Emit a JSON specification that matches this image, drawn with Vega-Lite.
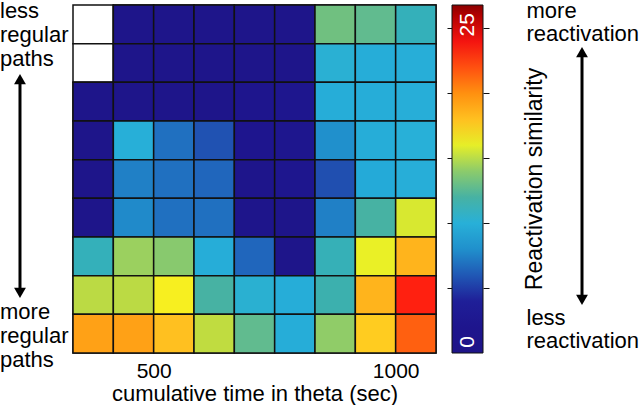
{
  "$schema": "https://vega.github.io/schema/vega-lite/v6.json",
  "width": 363,
  "height": 348,
  "autosize": "none",
  "padding": {"left": 73, "top": 5, "right": 204, "bottom": 52},
  "background": "white",
  "config": {"view": {"stroke": null}, "font": "Liberation Sans"},
  "resolve": {"scale": {"y": "independent"}},
  "layer": [
    {
      "layer": [
        {
          "data": {"name": "cells", "values": [
            {"t":333.33,"t2":416.67,"y":8,"y2":9,"v":null},{"t":416.67,"t2":500,"y":8,"y2":9,"v":1},{"t":500,"t2":583.33,"y":8,"y2":9,"v":1},{"t":583.33,"t2":666.67,"y":8,"y2":9,"v":1},{"t":666.67,"t2":750,"y":8,"y2":9,"v":1},{"t":750,"t2":833.33,"y":8,"y2":9,"v":1},{"t":833.33,"t2":916.67,"y":8,"y2":9,"v":13.3},{"t":916.67,"t2":1000,"y":8,"y2":9,"v":12.8},{"t":1000,"t2":1083.33,"y":8,"y2":9,"v":11.2},
            {"t":333.33,"t2":416.67,"y":7,"y2":8,"v":null},{"t":416.67,"t2":500,"y":7,"y2":8,"v":1},{"t":500,"t2":583.33,"y":7,"y2":8,"v":1},{"t":583.33,"t2":666.67,"y":7,"y2":8,"v":1},{"t":666.67,"t2":750,"y":7,"y2":8,"v":1},{"t":750,"t2":833.33,"y":7,"y2":8,"v":1},{"t":833.33,"t2":916.67,"y":7,"y2":8,"v":10.2},{"t":916.67,"t2":1000,"y":7,"y2":8,"v":9.6},{"t":1000,"t2":1083.33,"y":7,"y2":8,"v":9.8},
            {"t":333.33,"t2":416.67,"y":6,"y2":7,"v":1},{"t":416.67,"t2":500,"y":6,"y2":7,"v":1},{"t":500,"t2":583.33,"y":6,"y2":7,"v":1},{"t":583.33,"t2":666.67,"y":6,"y2":7,"v":1},{"t":666.67,"t2":750,"y":6,"y2":7,"v":2},{"t":750,"t2":833.33,"y":6,"y2":7,"v":2.8},{"t":833.33,"t2":916.67,"y":6,"y2":7,"v":9.6},{"t":916.67,"t2":1000,"y":6,"y2":7,"v":9.6},{"t":1000,"t2":1083.33,"y":6,"y2":7,"v":9.8},
            {"t":333.33,"t2":416.67,"y":5,"y2":6,"v":1},{"t":416.67,"t2":500,"y":5,"y2":6,"v":9.9},{"t":500,"t2":583.33,"y":5,"y2":6,"v":7},{"t":583.33,"t2":666.67,"y":5,"y2":6,"v":5.8},{"t":666.67,"t2":750,"y":5,"y2":6,"v":2.5},{"t":750,"t2":833.33,"y":5,"y2":6,"v":2.8},{"t":833.33,"t2":916.67,"y":5,"y2":6,"v":8},{"t":916.67,"t2":1000,"y":5,"y2":6,"v":9.6},{"t":1000,"t2":1083.33,"y":5,"y2":6,"v":10},
            {"t":333.33,"t2":416.67,"y":4,"y2":5,"v":1},{"t":416.67,"t2":500,"y":4,"y2":5,"v":7.5},{"t":500,"t2":583.33,"y":4,"y2":5,"v":7},{"t":583.33,"t2":666.67,"y":4,"y2":5,"v":6.6},{"t":666.67,"t2":750,"y":4,"y2":5,"v":1.5},{"t":750,"t2":833.33,"y":4,"y2":5,"v":2.8},{"t":833.33,"t2":916.67,"y":4,"y2":5,"v":5.7},{"t":916.67,"t2":1000,"y":4,"y2":5,"v":9.3},{"t":1000,"t2":1083.33,"y":4,"y2":5,"v":9.8},
            {"t":333.33,"t2":416.67,"y":3,"y2":4,"v":1},{"t":416.67,"t2":500,"y":3,"y2":4,"v":7.8},{"t":500,"t2":583.33,"y":3,"y2":4,"v":7},{"t":583.33,"t2":666.67,"y":3,"y2":4,"v":7},{"t":666.67,"t2":750,"y":3,"y2":4,"v":1.5},{"t":750,"t2":833.33,"y":3,"y2":4,"v":1},{"t":833.33,"t2":916.67,"y":3,"y2":4,"v":7.5},{"t":916.67,"t2":1000,"y":3,"y2":4,"v":12},{"t":1000,"t2":1083.33,"y":3,"y2":4,"v":15.6},
            {"t":333.33,"t2":416.67,"y":2,"y2":3,"v":11.2},{"t":416.67,"t2":500,"y":2,"y2":3,"v":14.3},{"t":500,"t2":583.33,"y":2,"y2":3,"v":13.9},{"t":583.33,"t2":666.67,"y":2,"y2":3,"v":9.6},{"t":666.67,"t2":750,"y":2,"y2":3,"v":6.6},{"t":750,"t2":833.33,"y":2,"y2":3,"v":1},{"t":833.33,"t2":916.67,"y":2,"y2":3,"v":11.3},{"t":916.67,"t2":1000,"y":2,"y2":3,"v":16.1},{"t":1000,"t2":1083.33,"y":2,"y2":3,"v":18.5},
            {"t":333.33,"t2":416.67,"y":1,"y2":2,"v":14.9},{"t":416.67,"t2":500,"y":1,"y2":2,"v":14.9},{"t":500,"t2":583.33,"y":1,"y2":2,"v":16.6},{"t":583.33,"t2":666.67,"y":1,"y2":2,"v":12},{"t":666.67,"t2":750,"y":1,"y2":2,"v":10.3},{"t":750,"t2":833.33,"y":1,"y2":2,"v":9.6},{"t":833.33,"t2":916.67,"y":1,"y2":2,"v":11.6},{"t":916.67,"t2":1000,"y":1,"y2":2,"v":18.5},{"t":1000,"t2":1083.33,"y":1,"y2":2,"v":23.4},
            {"t":333.33,"t2":416.67,"y":0,"y2":1,"v":19.3},{"t":416.67,"t2":500,"y":0,"y2":1,"v":19.3},{"t":500,"t2":583.33,"y":0,"y2":1,"v":18},{"t":583.33,"t2":666.67,"y":0,"y2":1,"v":15},{"t":666.67,"t2":750,"y":0,"y2":1,"v":12.8},{"t":750,"t2":833.33,"y":0,"y2":1,"v":9.6},{"t":833.33,"t2":916.67,"y":0,"y2":1,"v":14.1},{"t":916.67,"t2":1000,"y":0,"y2":1,"v":17.7},{"t":1000,"t2":1083.33,"y":0,"y2":1,"v":21.5}
          ]},
          "mark": {"type": "rect", "fill": "white", "stroke": "#111", "strokeWidth": 1.5},
          "encoding": {
            "x": {"field": "t", "type": "quantitative", "scale": {"domain": [333.33, 1083.33], "nice": false, "zero": false},
              "axis": {"values": [500, 1000], "format": "d", "ticks": false, "tickSize": 0, "domain": false, "grid": false, "labelPadding": 7, "labelFontSize": 21, "labelColor": "black", "labelFont": "Liberation Sans",
                "title": "cumulative time in theta (sec)", "titleFontSize": 22, "titleFontWeight": "normal", "titleColor": "black", "titleFont": "Liberation Sans", "titleBaseline": "alphabetic", "titleY": 47}},
            "x2": {"field": "t2"},
            "y": {"field": "y", "type": "quantitative", "scale": {"domain": [0, 9], "nice": false, "zero": false}, "axis": null},
            "y2": {"field": "y2"}
          }
        },
        {
          "data": {"name": "cells"},
          "transform": [{"filter": "isValid(datum.v)"}],
          "mark": {"type": "rect", "stroke": "#111", "strokeWidth": 1.5},
          "encoding": {
            "x": {"field": "t", "type": "quantitative", "scale": {"domain": [333.33, 1083.33], "nice": false, "zero": false}},
            "x2": {"field": "t2"},
            "y": {"field": "y", "type": "quantitative", "scale": {"domain": [0, 9], "nice": false, "zero": false}, "axis": null},
            "y2": {"field": "y2"},
            "color": {"field": "v", "type": "quantitative",
              "scale": {"domain": [0, 3.5, 4.5, 5.2, 6, 7, 8, 9, 10, 11, 11.8, 12.5, 13.3, 14.1, 15, 15.6, 16.4, 17.2, 18, 19, 20, 21, 22, 23.4, 24.2, 25, 25.7, 26.8],
                "range": ["#1e1488", "#1e1690", "#2028a0", "#2040a8", "#2058b5", "#2070c0", "#2090cc", "#22a8d8", "#28b0d8", "#30b0c0", "#40b0a8", "#58b898", "#70c080", "#90cc68", "#c0dc40", "#d8e830", "#f4f420", "#ffe020", "#ffc020", "#ffa818", "#ff9010", "#ff7010", "#ff5010", "#ff2010", "#f01010", "#e00808", "#c00000", "#8b0000"],
                "interpolate": "rgb"},
              "legend": {"type": "gradient", "orient": "none", "legendX": 379, "legendY": 0, "direction": "vertical", "title": null,
                "gradientLength": 348, "gradientThickness": 31, "gradientStrokeColor": "#111", "gradientStrokeWidth": 1,
                "values": [0, 25], "labelColor": "white", "labelFontSize": 21, "labelFont": "Liberation Sans", "labelOffset": -15, "labelOverlap": false,
                "encode": {"labels": {"update": {"angle": {"value": -90}, "align": {"value": "center"}, "baseline": {"value": "middle"}, "dx": {"signal": "datum.value === 0 ? 11 : 3.5"}}}}}
            }
          }
        },
        {
          "data": {"values": [
            {"label": "less", "tx": 182.5, "ty": 8.664},
            {"label": "regular", "tx": 182.5, "ty": 8.043},
            {"label": "paths", "tx": 182.5, "ty": 7.422},
            {"label": "more", "tx": 182.5, "ty": 0.879},
            {"label": "regular", "tx": 182.5, "ty": 0.259},
            {"label": "paths", "tx": 182.5, "ty": -0.362},
            {"label": "more", "tx": 1270.3, "ty": 8.664},
            {"label": "reactivation", "tx": 1270.3, "ty": 8.069},
            {"label": "less", "tx": 1270.3, "ty": 0.724},
            {"label": "reactivation", "tx": 1270.3, "ty": 0.129}
          ]},
          "mark": {"type": "text", "align": "left", "baseline": "alphabetic", "fontSize": 22, "font": "Liberation Sans", "color": "black"},
          "encoding": {
            "x": {"field": "tx", "type": "quantitative", "scale": {"domain": [333.33, 1083.33], "nice": false, "zero": false}},
            "y": {"field": "ty", "type": "quantitative", "scale": {"domain": [0, 9], "nice": false, "zero": false}, "axis": null},
            "text": {"field": "label"}
          }
        },
        {
          "data": {"values": [{"label": "Reactivation similarity", "tx": 1302.3, "ty": 4.5}]},
          "mark": {"type": "text", "align": "center", "baseline": "alphabetic", "angle": 270, "fontSize": 23, "font": "Liberation Sans", "color": "black"},
          "encoding": {
            "x": {"field": "tx", "type": "quantitative", "scale": {"domain": [333.33, 1083.33], "nice": false, "zero": false}},
            "y": {"field": "ty", "type": "quantitative", "scale": {"domain": [0, 9], "nice": false, "zero": false}, "axis": null},
            "text": {"field": "label"}
          }
        },
        {
          "data": {"values": [
            {"ax": 223.8, "ay": 7.06, "ay2": 1.578},
            {"ax": 1385.0, "ay": 7.759, "ay2": 1.397}
          ]},
          "mark": {"type": "rule", "strokeWidth": 3, "color": "black"},
          "encoding": {
            "x": {"field": "ax", "type": "quantitative", "scale": {"domain": [333.33, 1083.33], "nice": false, "zero": false}},
            "y": {"field": "ay", "type": "quantitative", "scale": {"domain": [0, 9], "nice": false, "zero": false}, "axis": null},
            "y2": {"field": "ay2"}
          }
        },
        {
          "data": {"values": [
            {"ax": 223.8, "ay": 7.086, "dir": "up"},
            {"ax": 223.8, "ay": 1.552, "dir": "down"},
            {"ax": 1385.0, "ay": 7.784, "dir": "up"},
            {"ax": 1385.0, "ay": 1.371, "dir": "down"}
          ]},
          "mark": {"type": "point", "filled": true, "size": 140, "color": "black", "opacity": 1},
          "encoding": {
            "x": {"field": "ax", "type": "quantitative", "scale": {"domain": [333.33, 1083.33], "nice": false, "zero": false}},
            "y": {"field": "ay", "type": "quantitative", "scale": {"domain": [0, 9], "nice": false, "zero": false}, "axis": null},
            "shape": {"field": "dir", "type": "nominal", "scale": {"domain": ["up", "down"], "range": ["triangle-up", "triangle-down"]}, "legend": null}
          }
        }
      ]
    },
    {
      "data": {"values": [{"v": 0}, {"v": 26.8}]},
      "mark": {"type": "point", "opacity": 0},
      "encoding": {
        "y": {"field": "v", "type": "quantitative", "scale": {"domain": [0, 26.8], "nice": false, "zero": false},
          "axis": {"orient": "right", "offset": 16, "values": [5, 10, 15, 20, 25], "tickSize": -5, "tickColor": "#111", "tickWidth": 1, "labels": false, "domain": false, "grid": false, "title": null}}
      }
    },
    {
      "data": {"values": [{"v": 0}, {"v": 26.8}]},
      "mark": {"type": "point", "opacity": 0},
      "encoding": {
        "y": {"field": "v", "type": "quantitative", "scale": {"domain": [0, 26.8], "nice": false, "zero": false},
          "axis": {"orient": "right", "offset": 47, "values": [5, 10, 15, 20, 25], "tickSize": 6, "tickColor": "#111", "tickWidth": 1, "labels": false, "domain": false, "grid": false, "title": null}}
      }
    }
  ]
}
